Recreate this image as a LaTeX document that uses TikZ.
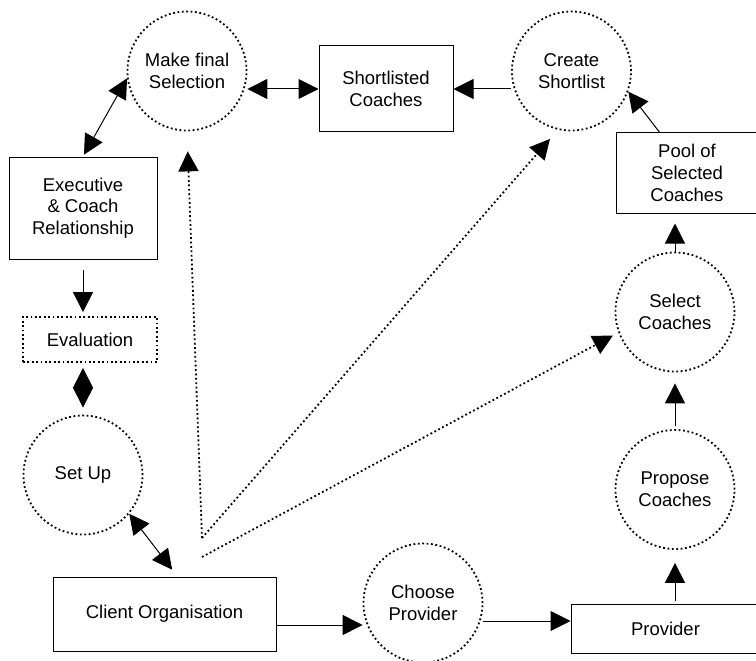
\documentclass[tikz,border=0pt]{standalone}
\usepackage{fontspec}
\setmainfont{Liberation Sans}
\usetikzlibrary{arrows.meta,positioning}

\begin{document}
\begin{tikzpicture}[x=1pt,y=-1pt,
    font=\fontsize{18.5}{21.7}\selectfont,
    activity/.style={circle,draw,line width=1.8pt,dash pattern=on 1.8pt off 2.6pt,minimum size=119pt,inner sep=0pt,align=center},
    store/.style={rectangle,draw,line width=1pt,inner sep=0pt,align=center},
    flow/.style={-{Triangle[length=20pt,width=20pt]},line width=1pt},
    both/.style={{Triangle[length=20pt,width=20pt]}-{Triangle[length=20pt,width=20pt]},line width=1pt},
    hint/.style={-{Triangle[length=20pt,width=20pt]},line width=1.8pt,dash pattern=on 1.8pt off 2.6pt}]
    \useasboundingbox (0,0) rectangle (756,661);
    % activities
    \node[activity] (make) at (187,71) {Make final\\Selection};
    \node[activity] (create) at (571.5,71) {Create\\Shortlist};
    \node[activity] (select) at (675,312) {Select\\Coaches};
    \node[activity] (propose) at (675,489.5) {Propose\\Coaches};
    \node[activity] (choose) at (423,603) {Choose\\Provider};
    \node[activity] (setup) at (83,475) {Set Up};
    % stores
    \node[store,minimum width=134pt,minimum height=86pt] (short) at (386,89) {Shortlisted\\Coaches};
    \node[store,minimum width=142pt,minimum height=80pt] (pool) at (687,173) {Pool of\\Selected\\Coaches};
    \node[store,minimum width=189pt,minimum height=49pt] (provider) at (665.5,628.5) {Provider};
    \node[store,minimum width=223pt,minimum height=74pt] (client) at (164.5,614) {Client Organisation};
    \node[store,minimum width=148pt,minimum height=102pt] (exec) at (83,208) {Executive\\\& Coach\\Relationship};
    \node[store,minimum width=134pt,minimum height=45pt,line width=1.8pt,dash pattern=on 1.8pt off 2.6pt] (eval) at (90,339.5) {Evaluation};
    % links
    \draw[both] (make.east |- short.west) -- (short.west);
    \draw[flow] (create.west |- short.east) -- (short.east);
    \draw[flow] (pool.124) -- (create.340);
    \draw[flow,shorten >=10pt] (select.north) -- (select.north |- pool.south);
    \draw[flow,shorten <=3pt,shorten >=11pt] (propose.north) -- (select.south);
    \draw[flow,shorten <=3pt,shorten >=13pt] (propose.south |- provider.north) -- (propose.south);
    \coordinate (pin) at ([yshift=7.5pt]provider.west);
    \draw[flow] (choose.east |- pin) -- (pin);
    \coordinate (cout) at ([yshift=-11pt]client.east);
    \draw[flow] (cout) -- (choose.west |- cout);
    \draw[both,shorten >=8.6pt] (setup.320) -- (client.71);
    \draw[both,shorten <=5pt,shorten >=7pt] (setup.north |- eval.south) -- (setup.north);
    \draw[flow,shorten <=10pt,shorten >=4pt] (exec.south) -- (exec.south |- eval.north);
    \draw[both,shorten <=2pt] (exec.north) -- (make.187);
    % client hints
    \coordinate (fork) at (202,538);
    \coordinate (fork2) at (202,557);
    \draw[hint,shorten >=20pt] (fork) -- (make.south);
    \draw[hint,shorten >=12pt] (fork) -- (create.257);
    \draw[hint,shorten >=6pt] (fork2) -- (select.200);
\end{tikzpicture}
\end{document}
